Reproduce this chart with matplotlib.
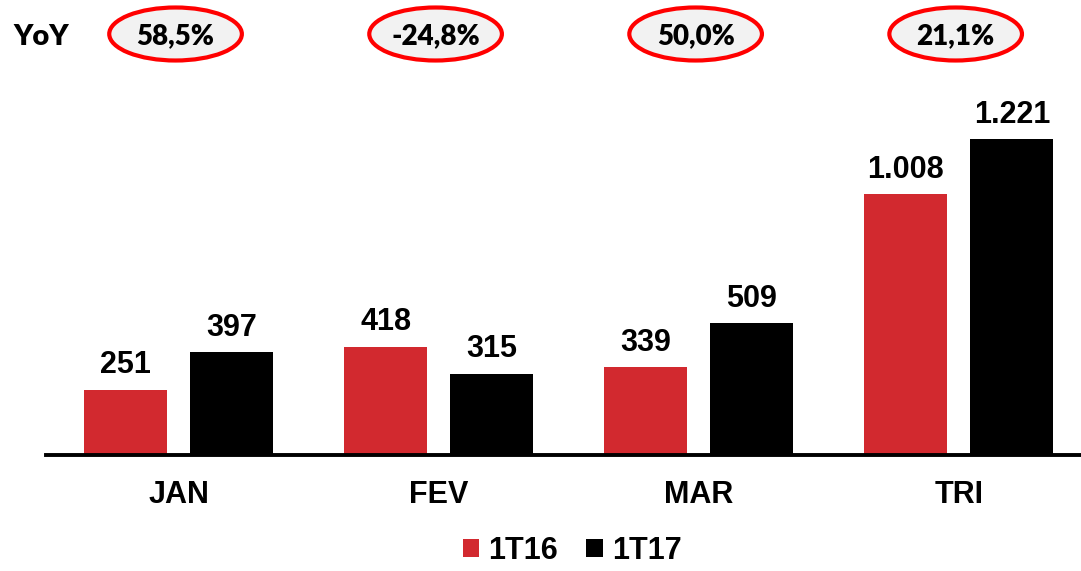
import matplotlib.pyplot as plt
from matplotlib.patches import Ellipse
from matplotlib.transforms import blended_transform_factory

# Data
categories = ['JAN', 'FEV', 'MAR', 'TRI']
values_1t16 = [251, 418, 339, 1008]
values_1t17 = [397, 315, 509, 1221]
labels_1t16 = ['251', '418', '339', '1.008']
labels_1t17 = ['397', '315', '509', '1.221']
yoy_labels = ['58,5%', '-24,8%', '50,0%', '21,1%']

red = '#D2292F'
font = 'Liberation Sans'

fig = plt.figure(figsize=(10.81, 5.71), dpi=100)
ax = fig.add_axes([0.0426, 0.2032, 0.9574, 0.6567])

x = range(len(categories))
w = 0.319
off = 0.204
b1 = ax.bar([i - off for i in x], values_1t16, w, color=red, label='1T16', zorder=2)
b2 = ax.bar([i + off for i in x], values_1t17, w, color='black', label='1T17', zorder=2)

for bars, labs in ((b1, labels_1t16), (b2, labels_1t17)):
    for bar, lab in zip(bars, labs):
        ax.annotate(lab, (bar.get_x() + bar.get_width() / 2, bar.get_height()),
                    xytext=(0, 12), textcoords='offset points', ha='center', va='baseline',
                    fontsize=22, fontweight='bold', family=font)

ax.set_xlim(-0.51, 3.47)
ax.set_ylim(0, 1450)
ax.set_xticks(list(x))
ax.set_xticklabels(categories, fontsize=22, fontweight='bold', family=font)
ax.tick_params(axis='x', length=0, pad=18)
ax.set_yticks([])
for s in ['left', 'right', 'top']:
    ax.spines[s].set_visible(False)
ax.spines['bottom'].set_linewidth(2.8)
ax.spines['bottom'].set_zorder(3)

# YoY ovals
trans = blended_transform_factory(ax.transData, fig.transFigure)
fig.text(13 / 1081, 1 - 37 / 571, 'YoY', fontsize=21, fontweight='heavy', family='Lato',
         ha='left', va='center')
for i, lab in enumerate(yoy_labels):
    cx = i - 0.012
    e = Ellipse((cx, 1 - 34 / 571), 0.51, 53 / 571, transform=trans, facecolor='#F2F2F2',
                edgecolor='#FF0000', linewidth=3, clip_on=False)
    fig.add_artist(e)
    fig.text(cx, 1 - 36 / 571, lab, transform=trans, fontsize=20, fontweight='heavy',
             family='Lato', ha='center', va='center')

leg = fig.legend(handles=[b1, b2], loc='center', bbox_to_anchor=(572 / 1081, 1 - 551 / 571),
                 ncol=2, frameon=False, handlelength=0.55, handleheight=0.55,
                 handletextpad=0.3, columnspacing=0.9,
                 prop={'family': font, 'weight': 'bold', 'size': 22})

fig.savefig('out.png', dpi=100)
